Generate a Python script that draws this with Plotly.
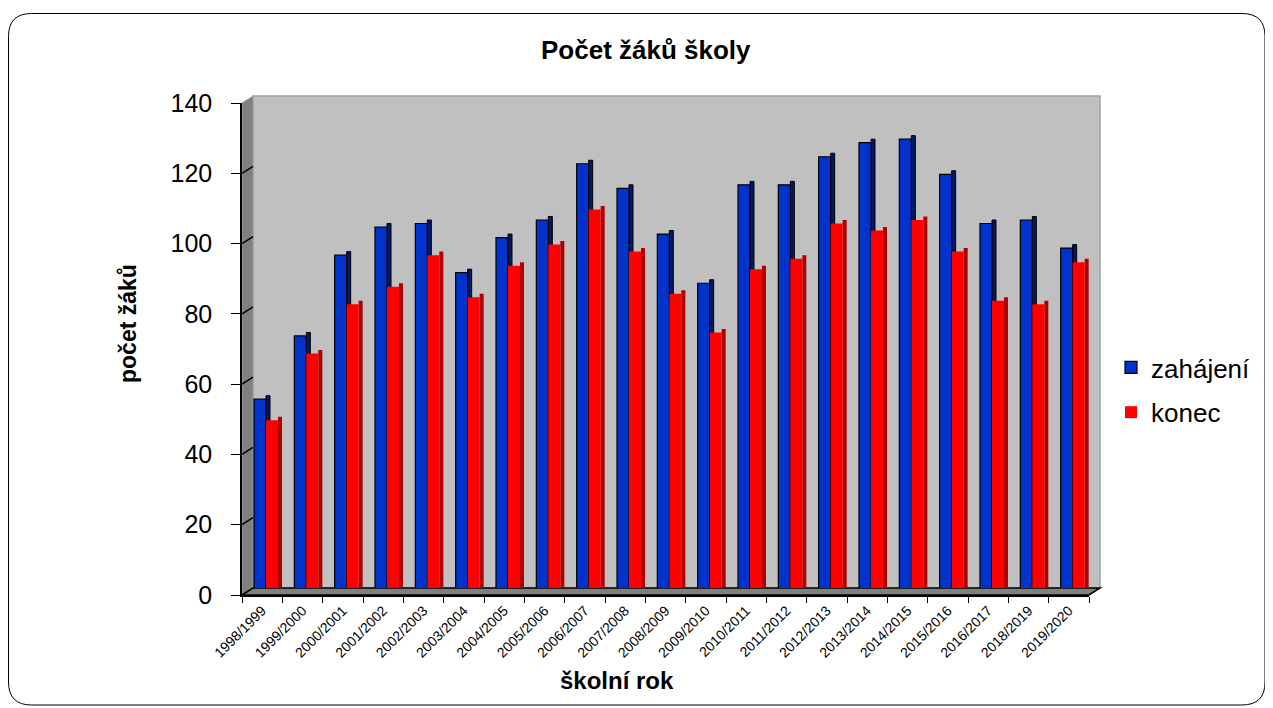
import plotly.graph_objects as go

categories = ["1998/1999", "1999/2000", "2000/2001", "2001/2002", "2002/2003", "2003/2004",
              "2004/2005", "2005/2006", "2006/2007", "2007/2008", "2008/2009", "2009/2010",
              "2010/2011", "2011/2012", "2012/2013", "2013/2014", "2014/2015", "2015/2016",
              "2016/2017", "2018/2019", "2019/2020"]
zahajeni = [55, 73, 96, 104, 105, 91, 101, 106, 122, 115, 102, 88, 116, 116, 124, 128, 129, 119, 105, 106, 98]
konec = [49, 68, 82, 87, 96, 84, 93, 99, 109, 97, 85, 74, 92, 95, 105, 103, 106, 97, 83, 82, 94]
y_ticks = [0, 20, 40, 60, 80, 100, 120, 140]

FONT = "Arial, 'Liberation Sans', sans-serif"
OFF = 8                       # page body margin
W, H = 1273 - OFF, 708 - OFF  # figure size
# plot box in screen pixels (back wall right/top, front axis left/bottom)
SL, SR, ST, SB = 242, 1100, 96, 595
DEPTH_X, DEPTH_Y = 11, 7      # 3D depth offset (px)
FRONT_TOP = 103


def P(sx, sy):
    """screen pixel -> paper coords"""
    return (sx - SL) / (SR - SL), (SB - sy) / (SB - ST)


def pstr(sx, sy):
    a, b = P(sx, sy)
    return f"{a:.5f},{b:.5f}"


fig = go.Figure()

# category spacing on back plane (px)
cat_px = (SR - (SL + DEPTH_X)) / len(categories)
half = cat_px / 2


def off(px):
    return (px - half) / cat_px


SIDE = 4
FACE = 12
common = dict(x=categories, xaxis="x", yaxis="y", hoverinfo="skip")
# blue bars (side face then front face)
fig.add_trace(go.Bar(**common, y=[v + 1.0 for v in zahajeni], offset=off(1 + FACE), width=SIDE / cat_px,
                     marker=dict(color="#001A66", line=dict(color="#000000", width=1)), showlegend=False))
fig.add_trace(go.Bar(x=categories, y=zahajeni, name="zahájení", offset=off(1), width=FACE / cat_px,
                     marker=dict(color="#0033CC", line=dict(color="#000000", width=1.2)),
                     legendgroup="a"))
# red bars
fig.add_trace(go.Bar(**common, y=[v + 1.0 for v in konec], offset=off(1 + FACE + FACE), width=SIDE / cat_px,
                     marker=dict(color="#B00000", line=dict(width=0)), showlegend=False))
fig.add_trace(go.Bar(x=categories, y=konec, name="konec", offset=off(1 + FACE), width=FACE / cat_px,
                     marker=dict(color="#FF0000", line=dict(width=0)),
                     legendgroup="b"))
# helper (no visible marks) for the front category axis
fig.add_trace(go.Scatter(x=categories, y=zahajeni, mode="none", xaxis="x2", yaxis="y3",
                         showlegend=False, hoverinfo="skip"))

# --- decorations: walls, floor, border ---
shapes = []
back = f"M {pstr(SL + DEPTH_X, ST)} L {pstr(SR, ST)} L {pstr(SR, SB - DEPTH_Y)} L {pstr(SL + DEPTH_X, SB - DEPTH_Y)} Z"
shapes.append(dict(type="path", xref="paper", yref="paper", path=back, fillcolor="#C0C0C0",
                   line=dict(color="#A0A0A0", width=1.5), layer="below"))
side = f"M {pstr(SL, FRONT_TOP)} L {pstr(SL + DEPTH_X, ST)} L {pstr(SL + DEPTH_X, SB - DEPTH_Y)} L {pstr(SL, SB)} Z"
shapes.append(dict(type="path", xref="paper", yref="paper", path=side, fillcolor="#808080",
                   line=dict(color="#A0A0A0", width=1), layer="below"))
front_right = SR - DEPTH_X
floor = f"M {pstr(SL, SB)} L {pstr(SL + DEPTH_X, SB - DEPTH_Y)} L {pstr(SR, SB - DEPTH_Y)} L {pstr(front_right, SB)} Z"
shapes.append(dict(type="path", xref="paper", yref="paper", path=floor, fillcolor="#808080",
                   line=dict(color="#000000", width=1.5), layer="below"))
# grid connectors on the side wall
scale = (SB - FRONT_TOP) / 140.0
for v in y_ticks[1:-1]:
    yf = SB - v * scale
    x0, y0 = P(SL, yf)
    x1, y1 = P(SL + DEPTH_X, yf - DEPTH_Y)
    shapes.append(dict(type="line", xref="paper", yref="paper", x0=x0, y0=y0, x1=x1, y1=y1,
                       line=dict(color="#000000", width=1.5), layer="below"))

# rounded border
bx0, by0, bx1, by1, r = 8.5, 13.5, 1265, 705, 23
border = (f"M {pstr(bx0 + r, by0)} L {pstr(bx1 - r, by0)} Q {pstr(bx1, by0)} {pstr(bx1, by0 + r)} "
          f"L {pstr(bx1, by1 - r)} Q {pstr(bx1, by1)} {pstr(bx1 - r, by1)} "
          f"L {pstr(bx0 + r, by1)} Q {pstr(bx0, by1)} {pstr(bx0, by1 - r)} "
          f"L {pstr(bx0, by0 + r)} Q {pstr(bx0, by0)} {pstr(bx0 + r, by0)} Z")
shapes.append(dict(type="path", xref="paper", yref="paper", path=border,
                   line=dict(color="#000000", width=1), fillcolor="rgba(0,0,0,0)", layer="below"))

annotations = [
    dict(text="<b>Počet žáků školy</b>", xref="paper", yref="paper",
         x=P(646, 0)[0], y=P(0, 50)[1], showarrow=False,
         font=dict(family=FONT, size=26, color="#000000"), xanchor="center", yanchor="middle"),
    dict(text="<b>školní rok</b>", xref="paper", yref="paper",
         x=P(617, 0)[0], y=P(0, 680)[1], showarrow=False,
         font=dict(family=FONT, size=24, color="#000000"), xanchor="center", yanchor="middle"),
    dict(text="<b>počet žáků</b>", xref="paper", yref="paper",
         x=P(128, 0)[0], y=P(0, 324)[1], showarrow=False, textangle=-90,
         font=dict(family=FONT, size=23, color="#000000"), xanchor="center", yanchor="middle"),
]

x_back_dom = [P(SL + DEPTH_X, 0)[0], 1.0]
y_back_dom = [P(0, SB - DEPTH_Y)[1], 1.0]
x_front_dom = [0.0, P(front_right, 0)[0]]
y_front_dom = [0.0, P(0, FRONT_TOP)[1]]

# bar tops sit between back and front planes
bar_shift = (DEPTH_Y / 2 + 1) / scale

fig.update_layout(
    width=W, height=H,
    margin=dict(l=SL - OFF, r=W - (SR - OFF), t=ST - OFF, b=H - (SB - OFF), pad=0, autoexpand=False),
    paper_bgcolor="#FFFFFF", plot_bgcolor="rgba(0,0,0,0)",
    barmode="overlay",
    font=dict(family=FONT, color="#000000"),
    showlegend=True,
    legend=dict(x=P(1111, 0)[0], y=P(0, 390)[1], xanchor="left", yanchor="middle",
                font=dict(family=FONT, size=26, color="#000000"), bgcolor="rgba(0,0,0,0)",
                tracegroupgap=8, itemwidth=30),
    shapes=shapes, annotations=annotations,
    xaxis=dict(domain=x_back_dom, anchor="y", visible=False, range=[-0.5, len(categories) - 0.5],
               fixedrange=True),
    yaxis=dict(domain=y_back_dom, anchor="x", visible=False, range=[bar_shift, 140 + bar_shift],
               fixedrange=True),
    yaxis2=dict(domain=y_back_dom, anchor="x", overlaying="y", range=[0, 140], tickvals=y_ticks[:-1],
                showgrid=True, gridcolor="#000000", gridwidth=1.5, showticklabels=False, ticks="",
                showline=False, zeroline=False, fixedrange=True),
    xaxis2=dict(domain=x_front_dom, anchor="y3", type="category", range=[-0.5, len(categories) - 0.5],
                showline=True, linecolor="#000000", linewidth=2, ticks="outside", ticklen=6,
                tickson="boundaries", tickcolor="#000000", tickwidth=1.2, tickangle=-45,
                tickfont=dict(family=FONT, size=14, color="#000000"), showgrid=False, fixedrange=True),
    yaxis3=dict(domain=y_front_dom, anchor="x2", range=[0, 140], tickvals=y_ticks,
                showgrid=False, zeroline=False, showline=True, linecolor="#000000", linewidth=1.5,
                ticks="outside", ticklen=9, tickcolor="#000000", tickwidth=1.2, ticklabelstandoff=14,
                tickfont=dict(family=FONT, size=25, color="#000000"), fixedrange=True),
)

fig.write_html("out.html")
